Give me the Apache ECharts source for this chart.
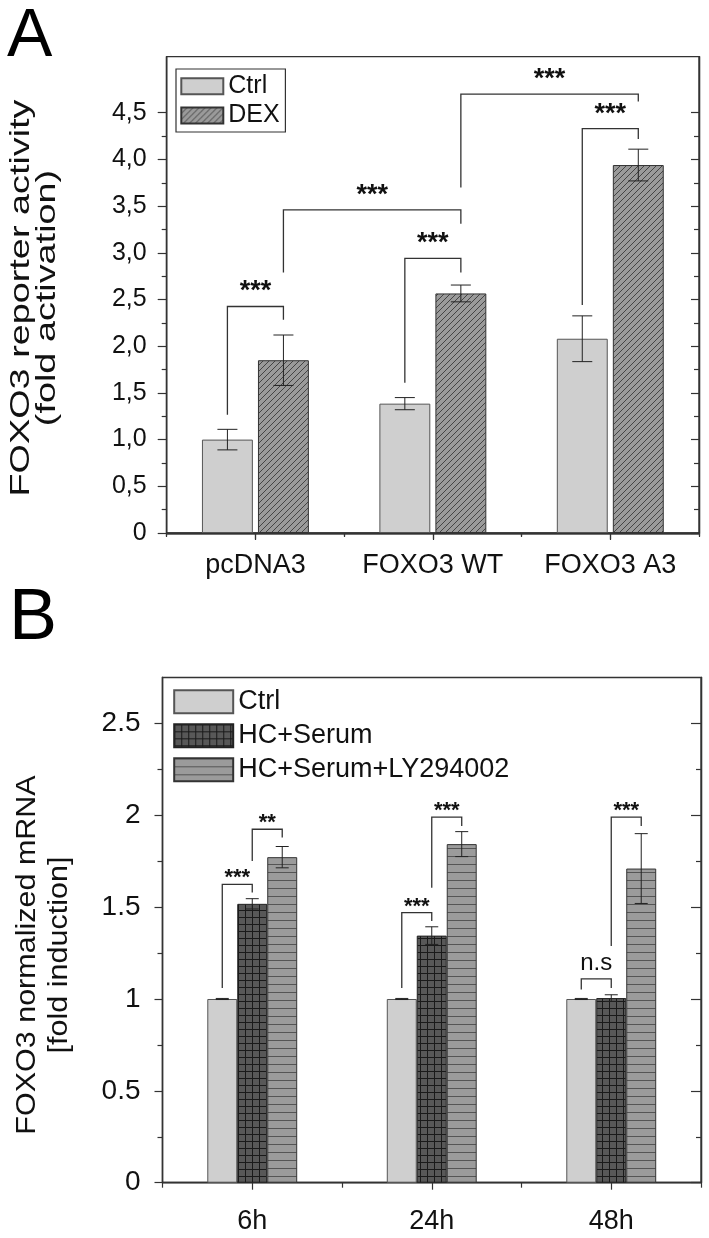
<!DOCTYPE html>
<html><head><meta charset="utf-8">
<script src="https://cdn.jsdelivr.net/npm/echarts@6/dist/echarts.min.js"></script>
<style>html,body{margin:0;padding:0;background:#fff;}#c{width:709px;height:1238px;}</style>
</head><body><div id="c"></div>
<script>
// ---------- Panel A data ----------
const catsA = ['pcDNA3', 'FOXO3 WT', 'FOXO3 A3'];
const namesA = ['Ctrl', 'DEX'];
const ctrlA = [1.00, 1.385, 2.08];
const ctrlErrA = [0.11, 0.065, 0.245];
const dexA = [1.85, 2.565, 3.94];
const dexErrA = [0.27, 0.09, 0.17];
const yTicksA = [0, 0.5, 1, 1.5, 2, 2.5, 3, 3.5, 4, 4.5];
const yMinorA = [0.25, 0.75, 1.25, 1.75, 2.25, 2.75, 3.25, 3.75, 4.25];
// [leftCat, leftSeries, leftLegBottom, top, rightCat, rightSeries, rightLegBottom]
const bracketsA = [
  [0, 0, 1.265, 2.425, 0, 1, 2.283],
  [0, 1, 2.79, 3.46, 1, 1, 3.31],
  [1, 0, 1.61, 2.94, 1, 1, 2.79],
  [1, 1, 3.70, 4.70, 2, 1, 4.62],
  [2, 0, 2.44, 4.33, 2, 1, 4.22]
];
const bracketLabelsA = ['***', '***', '***', '***', '***'];

// ---------- Panel B data ----------
const catsB = ['6h', '24h', '48h'];
const namesB = ['Ctrl', 'HC+Serum', 'HC+Serum+LY294002'];
const ctrlB = [1.0, 1.0, 1.0];
const ctrlErrB = [0.003, 0.003, 0.003];
const hcB = [1.518, 1.345, 1.005];
const hcErrB = [0.028, 0.048, 0.018];
const lyB = [1.772, 1.843, 1.71];
const lyErrB = [0.058, 0.068, 0.19];
const yTicksB = [0, 0.5, 1, 1.5, 2, 2.5];
const yMinorB = [0.25, 0.75, 1.25, 1.75, 2.25];
const bracketsB = [
  [0, 0, 1.06, 1.624, 0, 1, 1.579],
  [0, 1, 1.751, 1.924, 0, 2, 1.879],
  [1, 0, 1.06, 1.47, 1, 1, 1.424],
  [1, 1, 1.606, 1.99, 1, 2, 1.942],
  [2, 0, 1.051, 1.11, 2, 1, 1.06],
  [2, 1, 1.288, 1.99, 2, 2, 1.942]
];
const bracketLabelsB = ['***', '**', '***', '***', 'n.s', '***'];

// ---------- styles ----------
const FONT = "'Liberation Sans', Arial, Helvetica, sans-serif";
const AX = '#333';
const barFracA = 0.287, gapFracA = 0.10;
const barFracB = 0.167, gapFracB = 0.0;

function mk(w, h, draw) { const c = document.createElement('canvas'); c.width = w; c.height = h; draw(c.getContext('2d'), w, h); return c; }
const hatch = mk(6, 6, (x, w, h) => {
  x.fillStyle = '#9a9a9a'; x.fillRect(0, 0, w, h);
  x.strokeStyle = '#3a3a3a'; x.lineWidth = 0.9; x.beginPath();
  x.moveTo(0, h); x.lineTo(w, 0); x.moveTo(-1, 1); x.lineTo(1, -1); x.moveTo(w - 1, h + 1); x.lineTo(w + 1, h - 1); x.stroke();
});
const gridPat = mk(7, 7, (x, w, h) => {
  x.fillStyle = '#585858'; x.fillRect(0, 0, w, h);
  x.fillStyle = '#1a1a1a'; x.fillRect(0, 0, w, 1); x.fillRect(0, 0, 1, h);
});
const hLines = mk(8, 8, (x, w, h) => {
  x.fillStyle = '#9b9b9b'; x.fillRect(0, 0, w, h);
  x.fillStyle = '#555'; x.fillRect(0, 0, w, 1);
});

function xOf(api, cat, idx, n, frac, gf) {
  const c0 = api.coord([cat, 0])[0];
  const band = Math.abs(api.coord([1, 0])[0] - api.coord([0, 0])[0]);
  const w = band * frac, g = w * gf;
  const total = n * w + (n - 1) * g;
  return c0 - total / 2 + w / 2 + idx * (w + g);
}
function errSeries(vals, errs, idx, n, frac, gf, cap, gi) {
  return {
    type: 'custom', xAxisIndex: gi === 0 ? 0 : 4, yAxisIndex: gi === 0 ? 0 : 4, z: 5, silent: true,
    data: vals.map((v, i) => [i, v, errs[i]]), encode: { x: 0, y: 1 },
    renderItem: (p, api) => {
      const cat = api.value(0), v = api.value(1), e = api.value(2);
      const x = xOf(api, cat, idx, n, frac, gf);
      const yt = api.coord([cat, v + e])[1], yb = api.coord([cat, v - e])[1];
      const st = { stroke: '#222', lineWidth: 1 };
      return { type: 'group', children: [
        { type: 'line', shape: { x1: x, y1: yt, x2: x, y2: yb }, style: st },
        { type: 'line', shape: { x1: x - cap / 2, y1: yt, x2: x + cap / 2, y2: yt }, style: st },
        { type: 'line', shape: { x1: x - cap / 2, y1: yb, x2: x + cap / 2, y2: yb }, style: st }
      ] };
    }
  };
}
function bracketSeries(br, labels, n, frac, gf, gi, opts) {
  return {
    type: 'custom', xAxisIndex: gi === 0 ? 0 : 4, yAxisIndex: gi === 0 ? 0 : 4, z: 6, silent: true,
    data: br.map(b => b.slice()), encode: { x: 0, y: 3 },
    renderItem: (p, api) => {
      const lc = api.value(0), ls = api.value(1), lb = api.value(2), tp = api.value(3), rc = api.value(4), rs = api.value(5), rb = api.value(6);
      const xl = xOf(api, lc, ls, n, frac, gf), xr = xOf(api, rc, rs, n, frac, gf);
      const yl = api.coord([lc, lb])[1], yt = api.coord([lc, tp])[1], yr = api.coord([rc, rb])[1];
      const lab = labels[p.dataIndex];
      const isNs = lab === 'n.s';
      return { type: 'group', children: [
        { type: 'polyline', shape: { points: [[xl, yl], [xl, yt], [xr, yt], [xr, yr]] }, style: { stroke: '#333', lineWidth: 1.3, fill: null } },
        { type: 'text', x: (xl + xr) / 2, y: yt + (isNs ? opts.nsOff : opts.starOff),
          style: { text: lab, fontFamily: FONT, fontSize: isNs ? opts.nsSize : opts.starSize, fontWeight: isNs ? 'normal' : 'bold', fill: '#111', align: 'center', verticalAlign: 'bottom' } }
      ] };
    }
  };
}

const lineSt = { show: true, lineStyle: { color: AX, width: 1.3 } };
const noLab = { show: false };
function xAx(gi, data, pos, tick, showLab, fs, margin) {
  return { type: 'category', gridIndex: gi, data: data, position: pos, axisLine: lineSt,
    axisTick: tick, axisLabel: showLab ? { show: true, fontSize: fs, fontFamily: FONT, color: '#111', margin: margin, interval: 0 } : noLab, splitLine: { show: false } };
}
function yAx(gi, min, max, pos, ticks, len, inside, lab) {
  return { type: 'value', gridIndex: gi, min: min, max: max, position: pos, axisLine: lineSt,
    axisTick: { show: true, customValues: ticks, length: len, inside: inside, lineStyle: { color: AX, width: 1.2 } },
    axisLabel: lab ? lab : noLab, splitLine: { show: false } };
}
const tk = (len, inside, align) => ({ show: true, length: len, inside: inside, alignWithLabel: align, interval: 0, lineStyle: { color: AX, width: 1.2 } });

const option = {
  animation: false,
  textStyle: { fontFamily: FONT },
  grid: [
    { left: 166.7, top: 56.7, width: 532.3, height: 476.3, show: true, borderColor: AX, borderWidth: 1.3, backgroundColor: 'transparent' },
    { left: 162.5, top: 677.5, width: 538.5, height: 505.2, show: true, borderColor: AX, borderWidth: 1.3, backgroundColor: 'transparent' }
  ],
  xAxis: [
    xAx(0, catsA, 'bottom', tk(7, false, true), true, 27, 19),
    xAx(0, catsA, 'bottom', tk(4, false, false), false),
    xAx(0, catsA, 'top', tk(6, true, true), false),
    xAx(0, catsA, 'top', tk(3, true, false), false),
    xAx(1, catsB, 'bottom', tk(7, false, true), true, 27, 25),
    xAx(1, catsB, 'bottom', tk(5, false, false), false)
  ],
  yAxis: [
    yAx(0, 0, 5.1, 'left', yTicksA, 9, false, { show: true, customValues: yTicksA, fontSize: 25, fontFamily: FONT, color: '#111', margin: 20,
      formatter: v => v === 0 ? '0' : v.toFixed(1).replace('.', ',') }),
    yAx(0, 0, 5.1, 'left', yMinorA, 5, false),
    yAx(0, 0, 5.1, 'right', yTicksA, 8, true),
    yAx(0, 0, 5.1, 'right', yMinorA, 5, true),
    yAx(1, 0, 2.75, 'left', yTicksB, 8, false, { show: true, customValues: yTicksB, fontSize: 28, fontFamily: FONT, color: '#111', margin: 22,
      formatter: v => String(v) }),
    yAx(1, 0, 2.75, 'left', yMinorB, 5, false),
    yAx(1, 0, 2.75, 'right', yTicksB, 10, true),
    yAx(1, 0, 2.75, 'right', yMinorB, 5, true)
  ],
  legend: [
    { data: namesA, left: 176, top: 69, orient: 'vertical', icon: 'rect', itemWidth: 42, itemHeight: 16, itemGap: 4.3,
      padding: [4.7, 5.7, 4, 4.3], borderColor: AX, borderWidth: 1.2, backgroundColor: '#fff',
      textStyle: { fontSize: 25, fontFamily: FONT, color: '#111', lineHeight: 22, padding: [0, 0, 0, 0] }, selectedMode: false },
    { data: namesB, left: 173.2, top: 688.3, orient: 'vertical', icon: 'rect', itemWidth: 59, itemHeight: 23, itemGap: 7,
      padding: 0, textStyle: { fontSize: 27, fontFamily: FONT, color: '#111', lineHeight: 26 }, selectedMode: false }
  ],
  graphic: [
    { type: 'text', left: 7, top: 3, style: { text: 'A', fontSize: 68, fontFamily: FONT, fill: '#000' } },
    { type: 'text', left: 9, top: 583, style: { text: 'B', fontSize: 72, fontFamily: FONT, fill: '#000' } },
    { type: 'text', x: 34, y: 298, rotation: Math.PI / 2, scaleX: 1.35, scaleY: 1,
      style: { text: 'FOXO3 reporter activity\n(fold activation)', fontSize: 28, lineHeight: 26, fontFamily: FONT, fill: '#111', align: 'center', verticalAlign: 'middle' } },
    { type: 'text', x: 44, y: 955, rotation: Math.PI / 2, scaleX: 1.13, scaleY: 1,
      style: { text: 'FOXO3 normalized mRNA\n[fold induction]', fontSize: 27, lineHeight: 32, fontFamily: FONT, fill: '#111', align: 'center', verticalAlign: 'middle' } }
  ],
  series: [
    { name: 'Ctrl', type: 'bar', xAxisIndex: 0, yAxisIndex: 0, data: ctrlA, barWidth: (barFracA * 100) + '%', barGap: (gapFracA * 100) + '%',
      itemStyle: { color: '#cfcfcf', borderColor: '#555', borderWidth: 1 } },
    { name: 'DEX', type: 'bar', xAxisIndex: 0, yAxisIndex: 0, data: dexA, barWidth: (barFracA * 100) + '%', barGap: (gapFracA * 100) + '%',
      itemStyle: { color: { image: hatch, repeat: 'repeat' }, borderColor: '#333', borderWidth: 1 } },
    errSeries(ctrlA, ctrlErrA, 0, 2, barFracA, gapFracA, 20, 0),
    errSeries(dexA, dexErrA, 1, 2, barFracA, gapFracA, 20, 0),
    bracketSeries(bracketsA, bracketLabelsA, 2, barFracA, gapFracA, 0, { starOff: -1, starSize: 27, nsOff: -3, nsSize: 24 }),

    { name: 'Ctrl', type: 'bar', xAxisIndex: 4, yAxisIndex: 4, data: ctrlB, barWidth: (barFracB * 100) + '%', barGap: '0%',
      itemStyle: { color: '#cfcfcf', borderColor: '#555', borderWidth: 1 } },
    { name: 'HC+Serum', type: 'bar', xAxisIndex: 4, yAxisIndex: 4, data: hcB, barWidth: (barFracB * 100) + '%', barGap: '0%',
      itemStyle: { color: { image: gridPat, repeat: 'repeat' }, borderColor: '#222', borderWidth: 1 } },
    { name: 'HC+Serum+LY294002', type: 'bar', xAxisIndex: 4, yAxisIndex: 4, data: lyB, barWidth: (barFracB * 100) + '%', barGap: '0%',
      itemStyle: { color: { image: hLines, repeat: 'repeat' }, borderColor: '#333', borderWidth: 1 } },
    errSeries(ctrlB, ctrlErrB, 0, 3, barFracB, gapFracB, 13, 1),
    errSeries(hcB, hcErrB, 1, 3, barFracB, gapFracB, 13, 1),
    errSeries(lyB, lyErrB, 2, 3, barFracB, gapFracB, 13, 1),
    bracketSeries(bracketsB, bracketLabelsB, 3, barFracB, gapFracB, 1, { starOff: 5, starSize: 22, nsOff: -3, nsSize: 24 })
  ]
};
const chart = echarts.init(document.getElementById('c'), null, { renderer: 'canvas' });
chart.setOption(option);
</script></body></html>
